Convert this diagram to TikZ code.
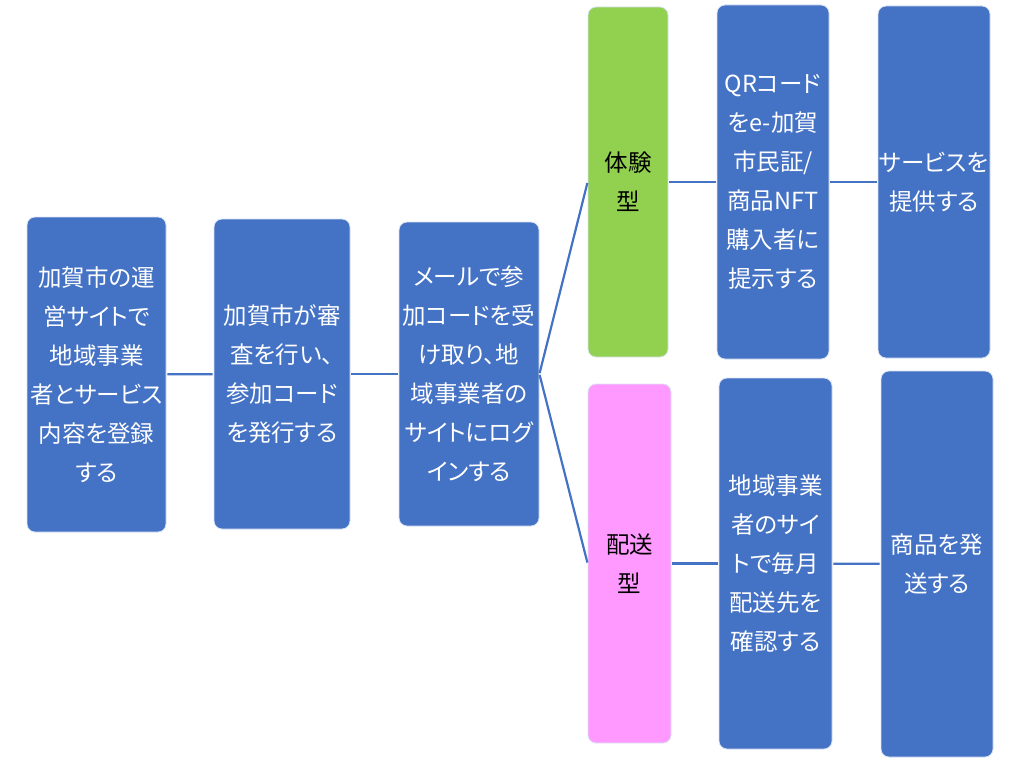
\documentclass[tikz,border=0pt]{standalone}
\usepackage{fontspec}
\newfontfamily\jpfont[RawFeature=+palt]{Noto Sans CJK JP}
\definecolor{boxblue}{HTML}{4472C4}
\definecolor{typegreen}{HTML}{92D050}
\definecolor{typepink}{HTML}{FF99FF}
\tikzset{
  stepbox/.style={rectangle, rounded corners=8pt, draw=white!80!boxblue,
    line width=0.8pt, fill=boxblue, text=white, align=center, inner sep=0pt,
    font=\jpfont\fontsize{23.5}{39}\selectfont},
  typebox/.style={stepbox, text=black},
  link/.style={draw=boxblue, line width=2.2pt, shorten <=1pt, shorten >=1pt}
}
\begin{document}
\begin{tikzpicture}[x=1pt, y=-1pt]
\useasboundingbox (0,0) rectangle (1024,762);

        \node (a) [stepbox, minimum width=139pt, minimum height=315pt] at (96.5,374.5)
        {加賀市の運\\営サイトで\\地域事業\\者とサービス\\内容を登録\\する};
        \node (b) [stepbox, minimum width=136pt, minimum height=310pt] at (282,374)
        {加賀市が審\\査を行い、\\参加コード\\を発行する};
        \node (c) [stepbox, minimum width=140pt, minimum height=304pt] at (469,374)
        {メールで参\\加コードを受\\け取り、地\\域事業者の\\サイトにログ\\インする};

        \node (g) [typebox, fill=typegreen, minimum width=80pt, minimum height=350pt] at (628,182)
        {体験\\型};
        \node (p) [typebox, fill=typepink, minimum width=83pt, minimum height=359pt] at (629.5,563.5)
        {配送\\型};

        \node (d) [stepbox, minimum width=112pt, minimum height=354pt] at (773,182)
        {QRコード\\をe-加賀\\市民証/\\商品NFT\\購入者に\\提示する};
        \node (e) [stepbox, minimum width=112pt, minimum height=352pt] at (934,182)
        {サービスを\\提供する};

        \node (f) [stepbox, minimum width=113pt, minimum height=371pt] at (775.5,563.5)
        {地域事業\\者のサイ\\トで毎月\\配送先を\\確認する};
        \node (h) [stepbox, minimum width=112pt, minimum height=386pt] at (937,564)
        {商品を発\\送する};

        \draw[link] (a) -- (b);
        \draw[link] (b) -- (c);
        \draw[link] (c.east) -- (g.west);
        \draw[link] (c.east) -- (p.west);
        \draw[link] (g) -- (d);
        \draw[link] (d) -- (e);
        \draw[link] (p) -- (f);
        \draw[link] (f) -- (h);

\end{tikzpicture}
\end{document}
